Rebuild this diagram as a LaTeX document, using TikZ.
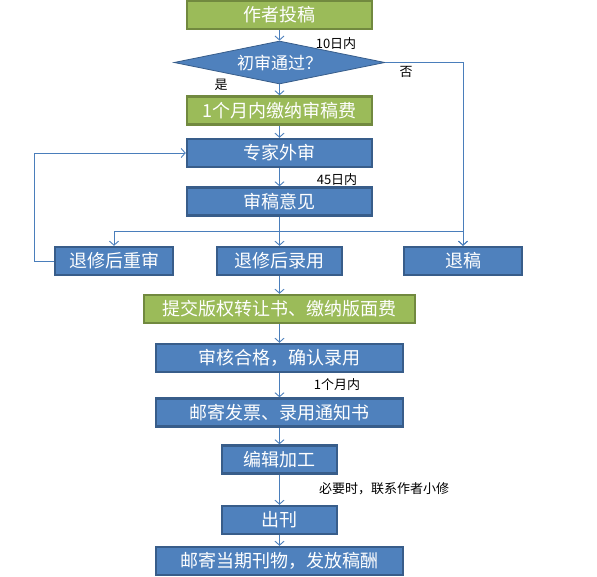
\documentclass[tikz,border=0pt]{standalone}
\usepackage{fontspec}
\setmainfont{Noto Sans CJK SC}
\usepackage{tikz}
\usetikzlibrary{arrows.meta,positioning,shapes.geometric}

\definecolor{boxblue}{HTML}{4F81BD}
\definecolor{edgeblue}{HTML}{385D8A}
\definecolor{boxgreen}{HTML}{9BBB59}
\definecolor{edgegreen}{HTML}{71893F}
\definecolor{lineblue}{HTML}{4A7EBB}

\begin{document}
\begin{tikzpicture}[x=1pt, y=-1pt,
  box/.style={draw, line width=2.4pt, minimum height=28pt, inner sep=0pt, text=white, font=\fontsize{18}{18}\selectfont},
  bluebox/.style={box, fill=boxblue, draw=edgeblue},
  greenbox/.style={box, fill=boxgreen, draw=edgegreen},
  lab/.style={font=\fontsize{13}{13}\selectfont, inner sep=1pt},
  arrow/.style={-{Straight Barb[length=4pt,width=9pt]}, draw=lineblue, line width=0.9pt},
  line/.style={draw=lineblue, line width=0.9pt}
]
\useasboundingbox (0,0) rectangle (597,577);
\node[greenbox, minimum width=185pt] (submit) at (279.5,15) {作者投稿};
\node[diamond, aspect=4.9, inner sep=0pt, minimum width=211pt, minimum height=43pt, fill=boxblue, draw=edgeblue, line width=0.8pt, text=white, font=\fontsize{17}{17}\selectfont] (check) at (279.5,62.5) {初审通过？};
\node[greenbox, minimum width=185pt] (fee) at (279.5,110.5) {1个月内缴纳审稿费};
\node[bluebox, minimum width=185pt] (expert) at (279.5,153) {专家外审};
\node[bluebox, minimum width=185pt] (opinion) at (279.5,201.5) {审稿意见};
\node[bluebox, minimum width=118pt] (rerev) at (114,261) {退修后重审};
\node[bluebox, minimum width=125pt] (revacc) at (279.5,261) {退修后录用};
\node[bluebox, minimum width=118pt] (reject) at (463,261) {退稿};
\node[greenbox, minimum width=271pt] (copyright) at (279.5,309) {提交版权转让书、缴纳版面费};
\node[bluebox, minimum width=247pt] (audit) at (279.5,358) {审核合格，确认录用};
\node[bluebox, minimum width=247pt] (mail) at (279.5,412.5) {邮寄发票、录用通知书};
\node[bluebox, minimum width=115pt] (edit) at (279.5,459.5) {编辑加工};
\node[bluebox, minimum width=115pt] (publish) at (279.5,520) {出刊};
\node[bluebox, minimum width=247pt] (final) at (279.5,561) {邮寄当期刊物，发放稿酬};
% labels
\node[lab] (days10) at (336,44) {10日内};
\node[lab] (no) at (406,72) {否};
\node[lab] (yes) at (221,85) {是};
\node[lab] (days45) at (337,180) {45日内};
\node[lab] (month) at (337,385) {1个月内};
\node[lab] (minor) at (384,489) {必要时，联系作者小修};
% connectors
\foreach \a/\b in {submit/check,check/fee,fee/expert,expert/opinion,revacc/copyright,copyright/audit,audit/mail,mail/edit,edit/publish,publish/final}
  \draw[arrow] (\a.south) -- (\b.north);
\coordinate (split) at (279.5,231);
\draw[line] (opinion.south) -- (split);
\draw[arrow] (split) -| (rerev.north);
\draw[arrow] (split) -- (revacc.north);
\draw[arrow] (split) -| (reject.north);
\draw[arrow] (check.east) -| (reject.north);
\draw[arrow] (rerev.west) -- ++(-19,0) |- (expert.west);
\end{tikzpicture}
\end{document}
